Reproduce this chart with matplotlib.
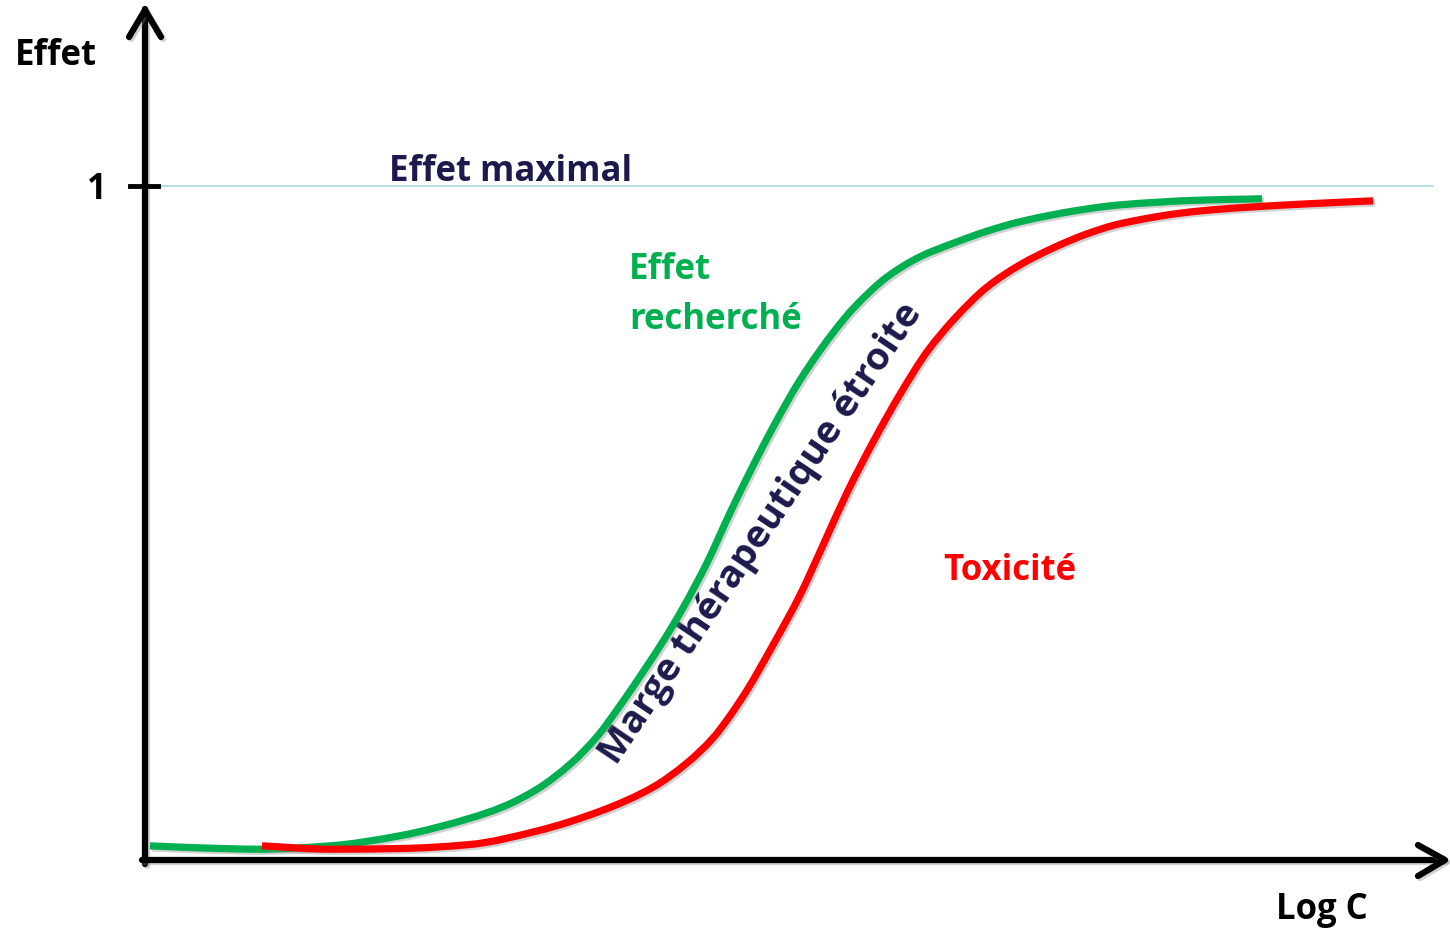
import matplotlib.pyplot as plt
import matplotlib.patheffects as pe
from matplotlib.path import Path
from matplotlib.patches import PathPatch

logc_recherche = [0.05, 0.55, 1.15, 1.85, 2.55, 3.25, 3.58, 3.92, 4.25, 4.52, 4.75,
                  4.98, 5.20, 5.38, 5.62, 5.85, 6.05, 6.28, 6.55, 6.90, 7.08, 7.42,
                  7.75, 8.08, 8.42, 8.75, 9.42, 9.75, 10.55, 11.17]
effet_recherche = [0.021, 0.018, 0.016, 0.021, 0.036, 0.062, 0.079, 0.105, 0.142, 0.183,
                   0.229, 0.279, 0.329, 0.374, 0.441, 0.515, 0.576, 0.642, 0.712, 0.786,
                   0.818, 0.865, 0.895, 0.915, 0.933, 0.947, 0.966, 0.972, 0.979, 0.981]

logc_toxicite = [1.17, 1.85, 2.55, 3.25, 3.92, 4.58, 5.08, 5.42, 5.68, 5.85, 6.02, 6.28,
                 6.55, 6.78, 7.02, 7.28, 7.55, 7.82, 8.10, 8.42, 8.75, 9.08, 9.42, 9.75,
                 10.55, 11.55, 12.28]
effet_toxicite = [0.021, 0.016, 0.017, 0.023, 0.043, 0.074, 0.108, 0.144, 0.181, 0.214,
                  0.252, 0.319, 0.393, 0.467, 0.545, 0.620, 0.691, 0.754, 0.804, 0.850,
                  0.883, 0.908, 0.929, 0.944, 0.963, 0.973, 0.978]

effet_max = 1

VERT = "#00b050"
ROUGE = "#ff0000"
MARINE = "#1c1a4c"
FONT = "Open Sans"


def px(x, y):
    # position en pixels de l'image -> coordonnées des données
    return (x - 145) / 100.0, (860 - y) / 674.0


def courbe_lisse(xs, ys):
    # trace lissé (Hermite monotone, type PCHIP, en segments de Bézier) par les points lus
    n = len(xs)
    h = [xs[i + 1] - xs[i] for i in range(n - 1)]
    d = [(ys[i + 1] - ys[i]) / h[i] for i in range(n - 1)]
    m = [d[0]] + [0.0] * (n - 2) + [d[-1]]
    for i in range(1, n - 1):
        if d[i - 1] * d[i] > 0:
            w1 = 2 * h[i] + h[i - 1]
            w2 = h[i] + 2 * h[i - 1]
            m[i] = (w1 + w2) / (w1 / d[i - 1] + w2 / d[i])
    verts = [(xs[0], ys[0])]
    codes = [Path.MOVETO]
    for i in range(n - 1):
        verts += [(xs[i] + h[i] / 3, ys[i] + m[i] * h[i] / 3),
                  (xs[i + 1] - h[i] / 3, ys[i + 1] - m[i + 1] * h[i] / 3),
                  (xs[i + 1], ys[i + 1])]
        codes += [Path.CURVE4] * 3
    return Path(verts, codes)


fig = plt.figure(figsize=(14.5, 9.3), dpi=100)
ax = fig.add_axes([0, 0, 1, 1])
x0, y0 = px(0, 930)
x1, y1 = px(1450, 0)
ax.set_xlim(x0, x1)
ax.set_ylim(y0, y1)
ax.axis("off")

shadow = [pe.SimpleLineShadow(offset=(1.5, -1.5), shadow_color="gray", alpha=0.35), pe.Normal()]

# ligne de l'effet maximal
ax.plot([px(158, 0)[0], px(1433, 0)[0]], [effet_max, effet_max], color="#aad8de", lw=1.2, zorder=1)

# axes avec flèches
ax_kw = dict(color="black", lw=4.5, solid_capstyle="round", solid_joinstyle="round",
             path_effects=shadow, zorder=3)
ax.plot(*zip(px(145, 864), px(145, 9)), **ax_kw)
ax.plot(*zip(px(129, 37), px(145, 10), px(161, 37)), **ax_kw)
ax.plot(*zip(px(142, 860), px(1444, 860)), **ax_kw)
ax.plot(*zip(px(1418, 845), px(1445, 860), px(1418, 876)), **ax_kw)
# graduation 1
ax.plot([px(130, 0)[0], px(158, 0)[0]], [effet_max, effet_max], color="black", lw=3.5, zorder=3)

# courbes
for xs, ys, col, z in [(logc_recherche, effet_recherche, VERT, 4),
                       (logc_toxicite, effet_toxicite, ROUGE, 5)]:
    ax.add_patch(PathPatch(courbe_lisse(xs, ys), fill=False, edgecolor=col, lw=5.2,
                           capstyle="butt", joinstyle="round", path_effects=shadow, zorder=z))

txt = dict(fontsize=25, fontweight="bold", family=FONT, ha="left", va="baseline")
ax.text(*px(15, 65), "Effet", color="black", **txt)
ax.text(*px(107, 199), "1", color="black", **{**txt, "ha": "right"})
ax.text(*px(1276, 919), "Log C", color="black", **txt)
ax.text(*px(389, 181), "Effet maximal", color=MARINE, **txt)
ax.text(*px(629, 279), "Effet", color=VERT, **txt)
ax.text(*px(629, 329), "recherché", color=VERT, **txt)
ax.text(*px(943, 580), "Toxicité", color=ROUGE, **txt)
ax.text(*px(761, 534), "Marge thérapeutique étroite", color=MARINE, fontsize=27.5,
        fontweight="bold", family=FONT, ha="center", va="center", rotation=56,
        rotation_mode="anchor")

fig.savefig("out.png", dpi=100)
